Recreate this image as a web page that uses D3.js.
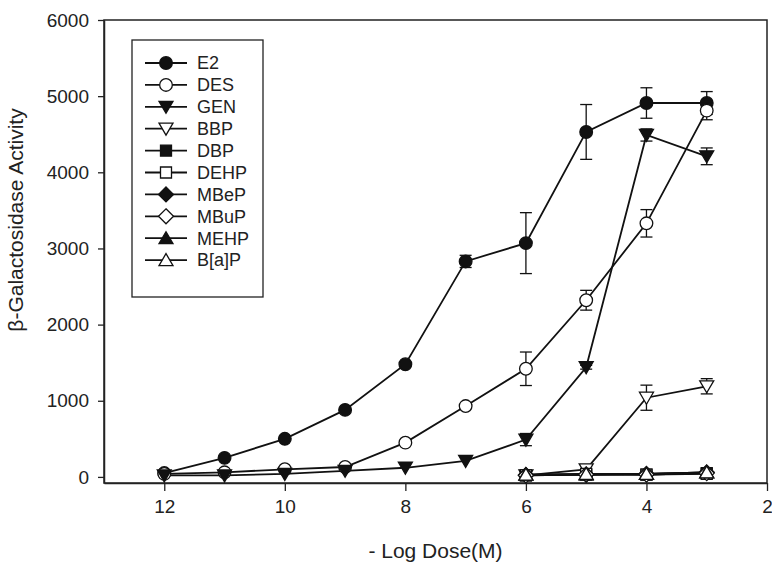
<!DOCTYPE html>
<html>
<head>
<meta charset="utf-8">
<script src="https://cdn.jsdelivr.net/npm/d3@7"></script>
<style>
  body { margin: 0; background: #fff; }
  text { font-family: "Liberation Sans", Arial, sans-serif; fill: #222; }
</style>
</head>
<body>
<svg id="chart" width="772" height="562"></svg>
<script>
// doses (-log M)
var dose = [12, 11, 10, 9, 8, 7, 6, 5, 4, 3];
var doseHigh = [6, 5, 4, 3];

// beta-galactosidase activity, mean and error
var e2 = [50, 250, 500, 880, 1480, 2830, 3070, 4530, 4910, 4910];
var e2Err = [0, 0, 0, 0, 0, 80, 400, 360, 200, 150];
var des = [40, 60, 100, 130, 450, 930, 1420, 2320, 3330, 4810];
var desErr = [0, 0, 0, 0, 0, 0, 220, 130, 180, 120];
var gen = [20, 20, 40, 80, 120, 210, 490, 1440, 4490, 4210];
var genErr = [0, 0, 0, 0, 0, 0, 80, 25, 80, 110];
var bbp = [20, 100, 1040, 1190];
var bbpErr = [0, 0, 165, 100];
var dbp = [20, 30, 30, 50];
var dehp = [20, 40, 30, 40];
var mbep = [25, 30, 40, 60];
var mbup = [20, 30, 30, 50];
var mehp = [30, 30, 40, 60];
var bap = [30, 40, 40, 60];

var yTicks = [0, 1000, 2000, 3000, 4000, 5000, 6000];
var xTicks = [12, 10, 8, 6, 4, 2];

var series = [
  {name: "E2", x: dose, y: e2, err: e2Err, shape: "circle", fill: "#111"},
  {name: "DES", x: dose, y: des, err: desErr, shape: "circle", fill: "#fff"},
  {name: "GEN", x: dose, y: gen, err: genErr, shape: "tridown", fill: "#111"},
  {name: "BBP", x: doseHigh, y: bbp, err: bbpErr, shape: "tridown", fill: "#fff"},
  {name: "DBP", x: doseHigh, y: dbp, err: null, shape: "square", fill: "#111"},
  {name: "DEHP", x: doseHigh, y: dehp, err: null, shape: "square", fill: "#fff"},
  {name: "MBeP", x: doseHigh, y: mbep, err: null, shape: "diamond", fill: "#111"},
  {name: "MBuP", x: doseHigh, y: mbup, err: null, shape: "diamond", fill: "#fff"},
  {name: "MEHP", x: doseHigh, y: mehp, err: null, shape: "triup", fill: "#111"},
  {name: "B[a]P", x: doseHigh, y: bap, err: null, shape: "triup", fill: "#fff"}
];

var svg = d3.select("#chart");
var plotL = 104, plotR = 767, plotT = 20, plotB = 483;

var x = d3.scaleLinear().domain([13, 2]).range([plotL, plotR]);
var y = d3.scaleLinear().domain([-80, 6000]).range([plotB, plotT]);

// marker shapes
function markerPath(shape) {
  if (shape === "circle") return d3.symbol(d3.symbolCircle, Math.PI * 40)();
  if (shape === "square") return "M-5.5,-5.5H5.5V5.5H-5.5Z";
  if (shape === "diamond") return "M0,-7.5L7.5,0L0,7.5L-7.5,0Z";
  if (shape === "tridown") return "M-7,-5.5H7L0,6.5Z";
  if (shape === "triup") return "M-7,5.5H7L0,-6.5Z";
}

// frame
svg.append("rect")
  .attr("x", plotL).attr("y", plotT)
  .attr("width", plotR - plotL).attr("height", plotB - plotT)
  .attr("fill", "none").attr("stroke", "#222").attr("stroke-width", 1.5);

// axes
var yAxis = d3.axisLeft(y).tickValues(yTicks).tickFormat(d3.format("d"))
  .tickSize(6).tickSizeOuter(0).tickPadding(9);
var gy = svg.append("g").attr("transform", "translate(" + plotL + ",0)").call(yAxis);
var xAxis = d3.axisBottom(x).tickValues(xTicks).tickSize(8).tickSizeOuter(0).tickPadding(9);
var gx = svg.append("g").attr("transform", "translate(0," + plotB + ")").call(xAxis);
[gy, gx].forEach(function (g) {
  g.select(".domain").attr("stroke", "#222").attr("stroke-width", 1.5);
  g.selectAll(".tick line").attr("stroke", "#222").attr("stroke-width", 1.3);
  g.selectAll(".tick text").style("font-size", "19px").attr("fill", "#222");
});

// axis titles
svg.append("text")
  .attr("x", (plotL + plotR) / 2).attr("y", 558)
  .attr("text-anchor", "middle").style("font-size", "21px")
  .text("- Log Dose(M)");
svg.append("text")
  .attr("transform", "translate(23,220) rotate(-90)")
  .attr("text-anchor", "middle").style("font-size", "21px")
  .text("β-Galactosidase Activity");

// lines
var line = d3.line().x(function (d) { return x(d[0]); }).y(function (d) { return y(d[1]); });
series.forEach(function (s) {
  var pts = s.x.map(function (d, i) { return [d, s.y[i]]; });
  svg.append("path").datum(pts)
    .attr("d", line)
    .attr("fill", "none").attr("stroke", "#111").attr("stroke-width", 1.8);
});

// error bars and markers
series.forEach(function (s) {
  var g = svg.append("g");
  if (s.err) {
    s.x.forEach(function (d, i) {
      var e = s.err[i];
      if (!e) return;
      var cx = x(d), y1 = y(s.y[i] + e), y0 = y(s.y[i] - e);
      g.append("line").attr("x1", cx).attr("x2", cx).attr("y1", y1).attr("y2", y0)
        .attr("stroke", "#111").attr("stroke-width", 1.3);
      [y1, y0].forEach(function (yy) {
        g.append("line").attr("x1", cx - 6).attr("x2", cx + 6).attr("y1", yy).attr("y2", yy)
          .attr("stroke", "#111").attr("stroke-width", 1.3);
      });
    });
  }
  g.selectAll("path.mk").data(s.x).enter().append("path")
    .attr("class", "mk")
    .attr("d", markerPath(s.shape))
    .attr("transform", function (d, i) { return "translate(" + x(d) + "," + y(s.y[i]) + ")"; })
    .attr("fill", s.fill).attr("stroke", "#111").attr("stroke-width", 1.3);
});

// legend
var lg = svg.append("g");
lg.append("rect").attr("x", 132).attr("y", 40).attr("width", 131).attr("height", 257)
  .attr("fill", "#fff").attr("stroke", "#222").attr("stroke-width", 1.3);
series.forEach(function (s, i) {
  var yy = 63 + i * 21.9;
  lg.append("line").attr("x1", 145).attr("x2", 187).attr("y1", yy).attr("y2", yy)
    .attr("stroke", "#111").attr("stroke-width", 1.8);
  lg.append("path").attr("d", markerPath(s.shape))
    .attr("transform", "translate(166," + yy + ")")
    .attr("fill", s.fill).attr("stroke", "#111").attr("stroke-width", 1.3);
  lg.append("text").attr("x", 197).attr("y", yy).attr("dy", "0.35em")
    .style("font-size", "18px").text(s.name);
});
</script>
</body>
</html>
